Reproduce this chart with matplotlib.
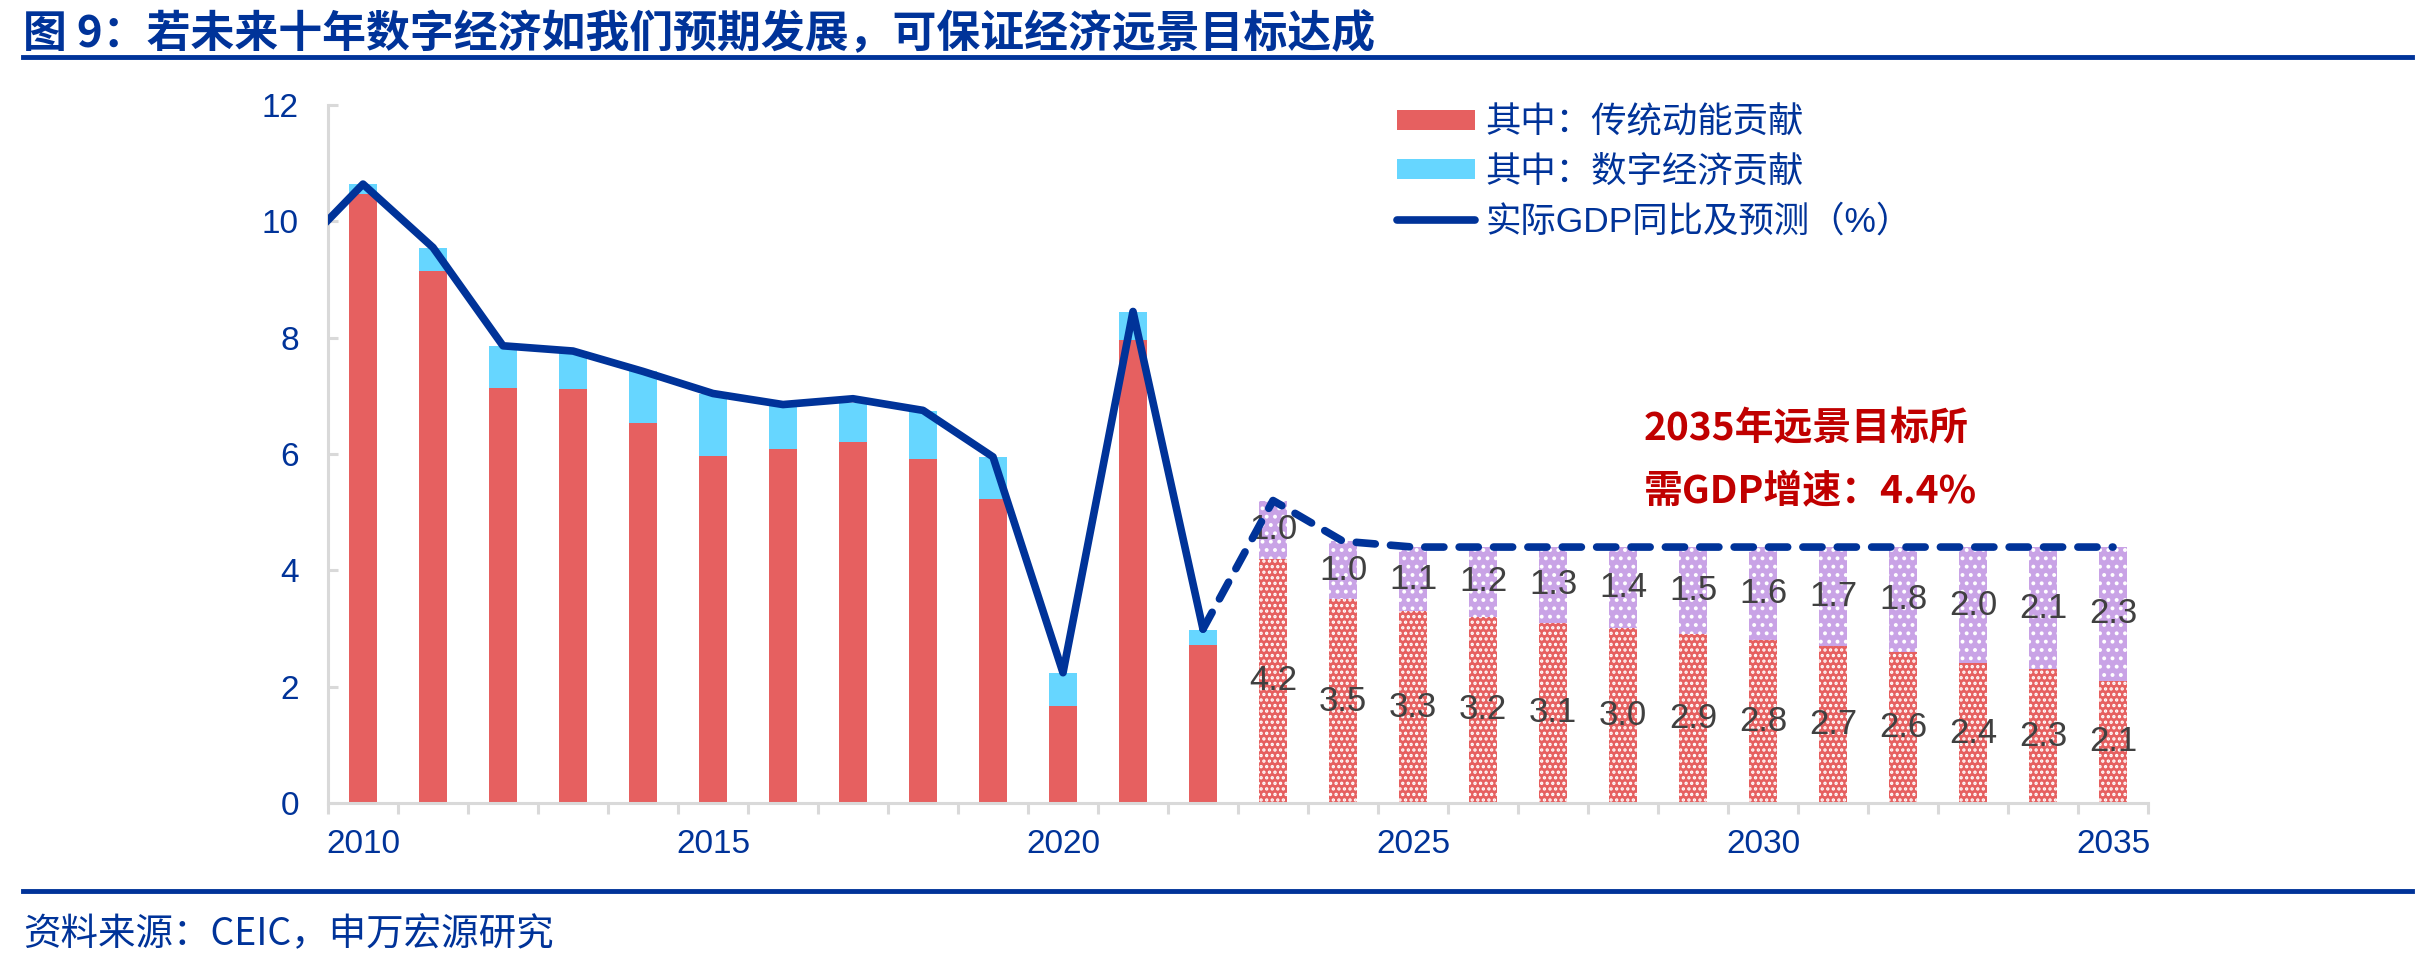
import numpy as np
import matplotlib.pyplot as plt
from matplotlib.patches import Patch
from matplotlib.lines import Line2D

plt.rcParams['font.family'] = ['Liberation Sans', 'Noto Sans CJK SC']
plt.rcParams['hatch.linewidth'] = 1.6

# data
years = list(range(2010, 2036))
hist_years = list(range(2010, 2023))
fc_years = list(range(2023, 2036))
hist_trad = [10.47, 9.14, 7.14, 7.11, 6.53, 5.96, 6.08, 6.21, 5.92, 5.23, 1.67, 7.96, 2.71]
hist_digi = [0.17, 0.41, 0.72, 0.66, 0.89, 1.08, 0.77, 0.66, 0.82, 0.72, 0.56, 0.48, 0.26]
fc_trad = [4.2, 3.5, 3.3, 3.2, 3.1, 3.0, 2.9, 2.8, 2.7, 2.6, 2.4, 2.3, 2.1]
fc_digi = [1.0, 1.0, 1.1, 1.2, 1.3, 1.4, 1.5, 1.6, 1.7, 1.8, 2.0, 2.1, 2.3]
gdp_years = list(range(2009, 2023))
gdp_actual = [9.4, 10.64, 9.55, 7.86, 7.77, 7.42, 7.04, 6.85, 6.95, 6.75, 5.95, 2.24, 8.45, 2.99]
gdp_fc_years = list(range(2022, 2036))
gdp_fc = [2.99, 5.2, 4.5, 4.4, 4.4, 4.4, 4.4, 4.4, 4.4, 4.4, 4.4, 4.4, 4.4, 4.4]
label_years = [2010, 2015, 2020, 2025, 2030, 2035]

RED = '#E66060'
CYAN = '#66D6FF'
PURPLE = '#C9A3E6'
BLUE = '#003399'
CJK = ['Noto Sans CJK SC', 'DejaVu Sans']

fig = plt.figure(figsize=(24.21, 9.65), dpi=100)
ax = fig.add_axes([0.13548, 0.16788, 0.75176, 0.72332])

def pos(yrs):
    return np.array(yrs) - 2010

w = 0.4
ax.bar(pos(hist_years), hist_trad, w, color=RED, linewidth=0, zorder=2)
ax.bar(pos(hist_years), hist_digi, w, bottom=hist_trad, color=CYAN, linewidth=0, zorder=2)
ax.bar(pos(fc_years), fc_trad, w, color=RED, edgecolor='white', linewidth=0,
       hatch='...', zorder=2)
ax.bar(pos(fc_years), fc_digi, w, bottom=fc_trad, color=PURPLE, edgecolor='white',
       linewidth=0, hatch='..', zorder=2)

# labels on forecast bars
for x, t, d in zip(pos(fc_years), fc_trad, fc_digi):
    ax.text(x, t / 2, f'{t:.1f}', ha='center', va='center', fontsize=25,
            color='#404040', zorder=3)
    ax.text(x, t + d / 2, f'{d:.1f}', ha='center', va='center', fontsize=25,
            color='#404040', zorder=3)

ax.plot(pos(gdp_years), gdp_actual, color=BLUE, lw=5.5, solid_joinstyle='round',
        solid_capstyle='round', zorder=4)
ax.plot(pos(gdp_fc_years), gdp_fc, color=BLUE, lw=5.5, dashes=(2.5, 2.0),
        dash_capstyle='round', dash_joinstyle='round', zorder=4)

ax.set_xlim(-0.5, 25.5)
ax.set_ylim(0, 12)
ax.set_xticks(pos(label_years))
ax.set_xticklabels([str(y) for y in label_years])
ax.set_xticks(np.arange(-0.5, 26, 1), minor=True)
ax.set_yticks(range(0, 13, 2))
ax.tick_params(axis='x', which='major', length=0, pad=19, labelsize=24, labelcolor=BLUE)
ax.tick_params(axis='x', which='minor', length=8, width=2.2, direction='out', color='#D9D9D9')
ax.tick_params(axis='y', length=7, width=2.2, direction='in', color='#D9D9D9',
               pad=21, labelsize=24, labelcolor=BLUE)
for s in ['top', 'right']:
    ax.spines[s].set_visible(False)
for s in ['left', 'bottom']:
    ax.spines[s].set_color('#D9D9D9')
    ax.spines[s].set_linewidth(2.2)

handles = [Patch(facecolor=RED), Patch(facecolor=CYAN), Line2D([], [], color=BLUE, lw=5.5,
                                                              solid_capstyle='round')]
labels = ['其中：传统动能贡献', '其中：数字经济贡献', '实际GDP同比及预测（%）']
ax.legend(handles, labels, loc='upper left', bbox_to_anchor=(0.577, 0.89),
          bbox_transform=fig.transFigure, frameon=False, fontsize=25.5, labelcolor=BLUE,
          handlelength=2.2, handleheight=0.5, handletextpad=0.3, labelspacing=0.45,
          borderpad=0, borderaxespad=0)

ax.text(18.3, 6.43, '2035年远景目标所', ha='left', va='center', fontsize=28,
        fontweight='bold', color='#C00000', family=CJK, zorder=5)
ax.text(18.3, 5.35, '需GDP增速：4.4%', ha='left', va='center', fontsize=28,
        fontweight='bold', color='#C00000', family=CJK, zorder=5)

# header / footer
fig.text(23 / 2421, 1 - 34 / 965, '图 9：若未来十年数字经济如我们预期发展，可保证经济远景目标达成',
         ha='left', va='center', fontsize=31.6, fontweight='heavy', color=BLUE, family=CJK)
fig.add_artist(Line2D([23 / 2421, 2412 / 2421], [1 - 57 / 965, 1 - 57 / 965], color=BLUE, lw=3.5))
fig.add_artist(Line2D([23 / 2421, 2412 / 2421], [1 - 891 / 965, 1 - 891 / 965], color=BLUE, lw=3.5))
fig.text(23 / 2421, 1 - 935 / 965, '资料来源：CEIC，申万宏源研究', ha='left', va='center',
         fontsize=27, color=BLUE, family=CJK)

fig.savefig('out.png', dpi=100)
